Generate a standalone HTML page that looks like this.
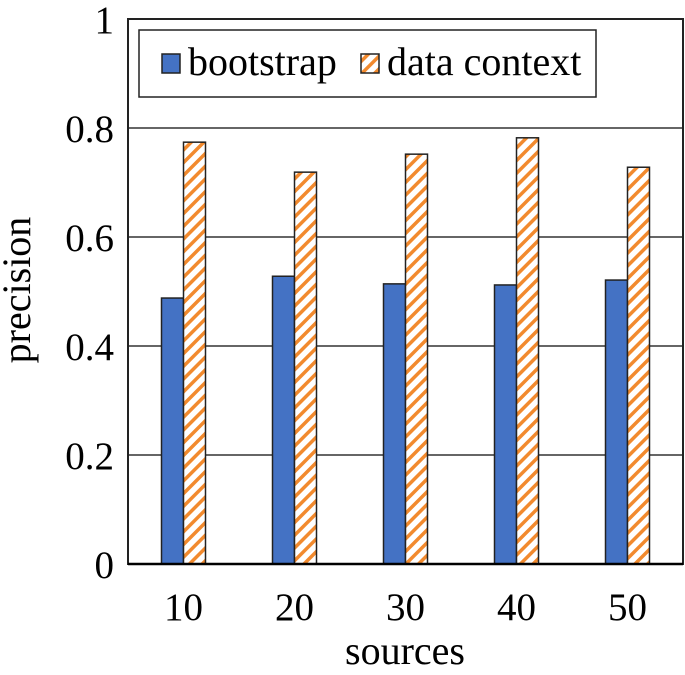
<!DOCTYPE html>
<html><head><meta charset="utf-8"><style>
html,body{margin:0;padding:0;background:#fff;}
svg text{font-family:"Liberation Serif",serif;fill:#000;}
</style></head><body>
<svg id="chart" width="685" height="670" xmlns="http://www.w3.org/2000/svg">
<defs>
<pattern id="hatch" patternUnits="userSpaceOnUse" width="9" height="9" patternTransform="rotate(45)">
<rect width="9" height="9" fill="#fff"/>
<rect x="0" y="0" width="3.5" height="9" fill="#f28a2e"/>
</pattern>
</defs>
<g id="grid"></g>
<g id="bars"></g>
<rect x="128" y="19" width="555" height="545" fill="none" stroke="#222" stroke-width="2"/>
<line x1="128" y1="564" x2="683" y2="564" stroke="#000" stroke-width="2.5"/>
<g id="ticks"></g>
<text x="30" y="290" font-size="40" text-anchor="middle" transform="rotate(-90 30 290)">precision</text>
<text x="405" y="664" font-size="40" text-anchor="middle">sources</text>
<g>
<rect x="139" y="30" width="457" height="67" fill="#fff" stroke="#222" stroke-width="1.5"/>
<g>
<rect x="162" y="54" width="18" height="19" fill="#4472c4" stroke="#222" stroke-width="1.5"/>
<text x="188" y="75" font-size="40">bootstrap</text>
</g>
<g>
<rect x="361" y="54" width="18" height="19" fill="url(#hatch)" stroke="#222" stroke-width="1.5"/>
<text x="387" y="75" font-size="40">data context</text>
</g>
</g>
</svg>
<script>
const categories = ["10","20","30","40","50"];
const bootstrap = [0.488, 0.528, 0.514, 0.512, 0.521];
const dataContext = [0.774, 0.719, 0.752, 0.782, 0.728];
const yTicks = [0, 0.2, 0.4, 0.6, 0.8, 1];
const yTickLabels = ["0","0.2","0.4","0.6","0.8","1"];

const NS = "http://www.w3.org/2000/svg";
const pL = 128, pR = 683, pT = 19, pB = 564;
const yS = v => pB - v * (pB - pT);
const band = (pR - pL) / categories.length;
const xc = i => pL + band * (i + 0.5);
const bw = 22;

const grid = document.getElementById('grid');
const ticks = document.getElementById('ticks');
yTicks.forEach((t, i) => {
  if (t > 0 && t < 1) {
    const l = document.createElementNS(NS, 'line');
    l.setAttribute('x1', pL); l.setAttribute('x2', pR);
    l.setAttribute('y1', yS(t)); l.setAttribute('y2', yS(t));
    l.setAttribute('stroke', '#333'); l.setAttribute('stroke-width', '1.5');
    
    
    grid.appendChild(l);
  }
  const tx = document.createElementNS(NS, 'text');
  tx.setAttribute('x', 114); tx.setAttribute('y', yS(t) + 14);
  tx.setAttribute('font-size', '39'); tx.setAttribute('text-anchor', 'end');
  tx.textContent = yTickLabels[i];
  
  
  ticks.appendChild(tx);
});
categories.forEach((c, i) => {
  const tx = document.createElementNS(NS, 'text');
  tx.setAttribute('x', xc(i)); tx.setAttribute('y', 620);
  tx.setAttribute('font-size', '39'); tx.setAttribute('text-anchor', 'middle');
  tx.textContent = c;
  
  
  ticks.appendChild(tx);
});
const bars = document.getElementById('bars');
categories.forEach((c, i) => {
  const b = document.createElementNS(NS, 'rect');
  b.setAttribute('x', xc(i) - bw); b.setAttribute('y', yS(bootstrap[i]));
  b.setAttribute('width', bw); b.setAttribute('height', pB - yS(bootstrap[i]));
  b.setAttribute('fill', '#4472c4'); b.setAttribute('stroke', '#222'); b.setAttribute('stroke-width', '1.5');
  
  
  bars.appendChild(b);
  const h = document.createElementNS(NS, 'rect');
  h.setAttribute('x', xc(i)); h.setAttribute('y', yS(dataContext[i]));
  h.setAttribute('width', bw); h.setAttribute('height', pB - yS(dataContext[i]));
  h.setAttribute('fill', 'url(#hatch)'); h.setAttribute('stroke', '#222'); h.setAttribute('stroke-width', '1.5');
  
  
  bars.appendChild(h);
});
</script>
</body></html>
